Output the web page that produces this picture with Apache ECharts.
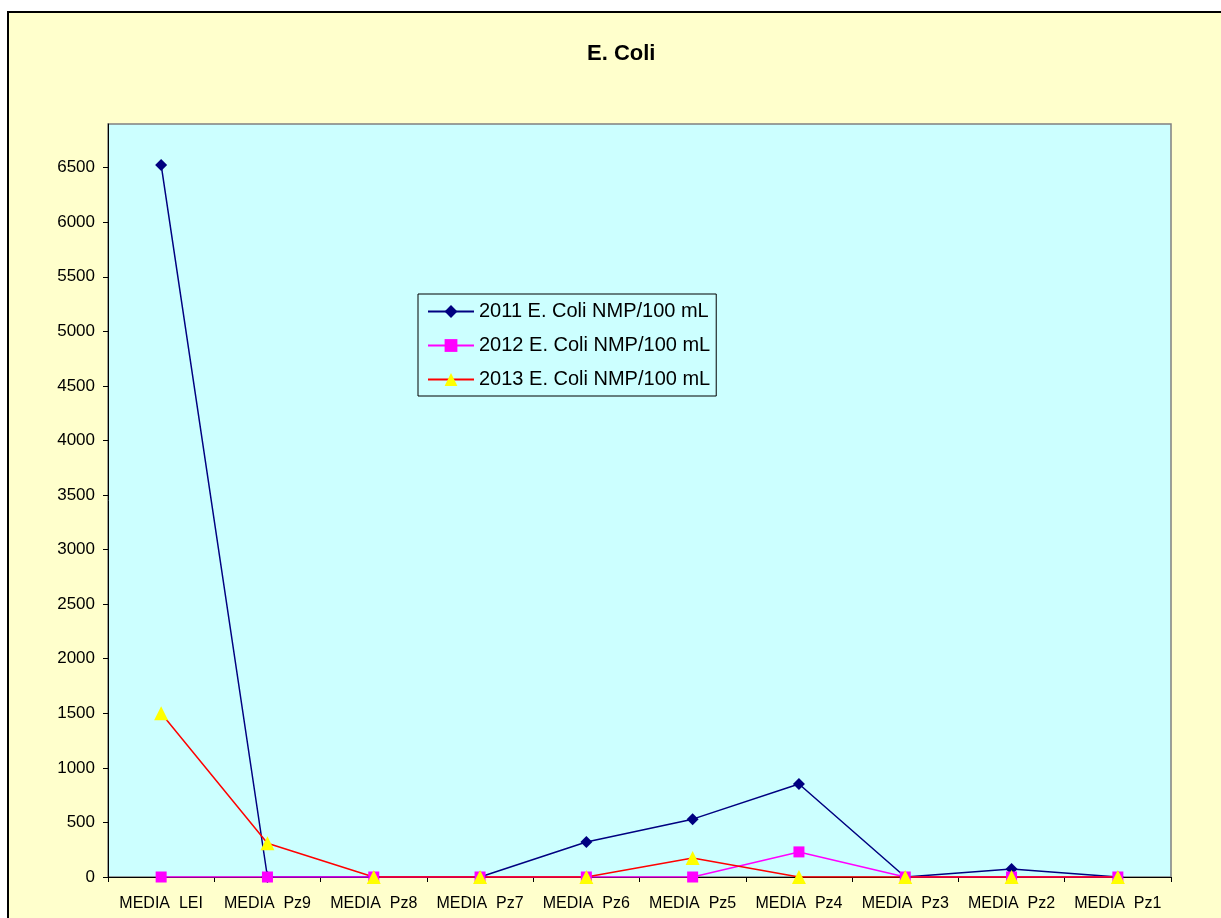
<!DOCTYPE html>
<html>
<head>
<meta charset="utf-8">
<script src="https://cdn.jsdelivr.net/npm/echarts@6/dist/echarts.min.js"></script>
<style>
html,body{margin:0;padding:0;background:#fff;}
#c{width:1221px;height:918px;}
</style>
</head>
<body>
<div id="c"></div>
<script>
var categories = ['MEDIA  LEI','MEDIA  Pz9','MEDIA  Pz8','MEDIA  Pz7','MEDIA  Pz6','MEDIA  Pz5','MEDIA  Pz4','MEDIA  Pz3','MEDIA  Pz2','MEDIA  Pz1'];
var s2011 = [6525, 0, 0, 0, 320, 530, 852, 0, 73, 0];
var s2012 = [0, 0, 0, 0, 0, 0, 230, 0, 0, 0];
var s2013 = [1500, 310, 0, 0, 0, 175, 0, 0, 0, 0];
var names = ['2011 E. Coli NMP/100 mL','2012 E. Coli NMP/100 mL','2013 E. Coli NMP/100 mL'];
var yMin = 0, yMax = 6900, yInterval = 500;

var chart = echarts.init(document.getElementById('c'));
var font = 'Liberation Sans, Arial, sans-serif';
chart.setOption({
  backgroundColor: 'transparent',
  animation: false,
  graphic: [
    {type:'rect', z:-10, silent:true, shape:{x:8, y:12, width:1300, height:1000},
     style:{fill:'#FFFFCC', stroke:'#000', lineWidth:2}}
  ],
  title: {
    text: 'E. Coli', left: 582, top: 38,
    textStyle: {fontFamily: font, fontSize: 22, fontWeight: 'bold', color: '#000'}
  },
  legend: {
    orient: 'vertical', left: 418, top: 294,
    width: 300,
    backgroundColor: '#CCFFFF',
    borderColor: '#000', borderWidth: 1,
    padding: [7, 6, 6, 9],
    itemGap: 13, itemWidth: 46, itemHeight: 16,
    textStyle: {fontFamily: font, fontSize: 20, color: '#000', lineHeight: 21},
    data: names
  },
  grid: {
    left: 108, top: 124, width: 1063, height: 753,
    show: true, backgroundColor: '#CCFFFF', borderColor: '#808080', borderWidth: 1.5
  },
  xAxis: {
    type: 'category', data: categories, boundaryGap: true,
    axisLine: {lineStyle: {color: '#000', width: 1}},
    axisTick: {show: true, length: 5, lineStyle: {color: '#000'}},
    axisLabel: {fontFamily: font, fontSize: 16, color: '#000', margin: 19, interval: 0}
  },
  yAxis: {
    type: 'value', min: yMin, max: yMax, interval: yInterval,
    axisLine: {show: true, lineStyle: {color: '#000', width: 1}},
    axisTick: {show: true, length: 5, lineStyle: {color: '#000'}},
    splitLine: {show: false},
    axisLabel: {fontFamily: font, fontSize: 17, color: '#000', margin: 13, showMaxLabel: false,
      formatter: function (v) { return String(v); }}
  },
  series: [
    {name: names[0], type: 'line', data: s2011, symbol: 'diamond', symbolSize: 12,
     lineStyle: {color: '#000080', width: 1.5}, itemStyle: {color: '#000080'}},
    {name: names[1], type: 'line', data: s2012, symbol: 'rect', symbolSize: 11,
     lineStyle: {color: '#FF00FF', width: 1.5}, itemStyle: {color: '#FF00FF'}},
    {name: names[2], type: 'line', data: s2013, symbol: 'triangle', symbolSize: 14,
     lineStyle: {color: '#FF0000', width: 1.5}, itemStyle: {color: '#FFFF00'}}
  ]
});
</script>
</body>
</html>
